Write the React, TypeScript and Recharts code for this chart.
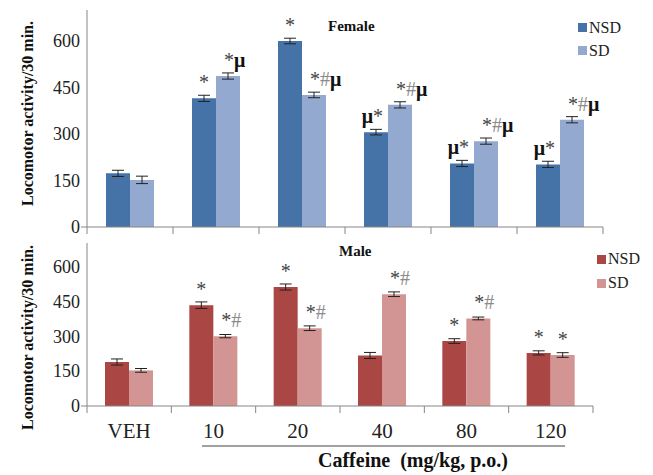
import React from "react";
import { Bar, BarChart, ErrorBar, LabelList, Legend, XAxis, YAxis, Label } from "recharts";

const doses = ["VEH", "10", "20", "40", "80", "120"];
const yTicks = [0, 150, 300, 450, 600];

const femaleNSD = [173, 415, 600, 306, 205, 202];
const femaleSD = [152, 487, 426, 394, 277, 346];
const femaleNSDErr = [10, 10, 9, 9, 10, 10];
const femaleSDErr = [12, 10, 9, 10, 10, 10];
const femaleNSDNote = ["", "*", "*", "μ*", "μ*", "μ*"];
const femaleSDNote = ["", "*μ", "*#μ", "*#μ", "*#μ", "*#μ"];

const maleNSD = [189, 433, 511, 217, 279, 228];
const maleSD = [153, 300, 334, 480, 376, 219];
const maleNSDErr = [13, 14, 13, 13, 10, 9];
const maleSDErr = [8, 7, 10, 10, 6, 10];
const maleNSDNote = ["", "*", "*", "", "*", "*"];
const maleSDNote = ["", "*#", "*#", "*#", "*#", "*"];

const SERIF = '"Liberation Serif", Tinos, "DejaVu Serif", serif';
const AXIS = "#868686";

const femaleData = doses.map((dose, i) => ({
  dose,
  nsd: femaleNSD[i],
  sd: femaleSD[i],
  nsdErr: femaleNSDErr[i],
  sdErr: femaleSDErr[i],
  nsdNote: femaleNSDNote[i],
  sdNote: femaleSDNote[i],
}));

const maleData = doses.map((dose, i) => ({
  dose,
  nsd: maleNSD[i],
  sd: maleSD[i],
  nsdErr: maleNSDErr[i],
  sdErr: maleSDErr[i],
  nsdNote: maleNSDNote[i],
  sdNote: maleSDNote[i],
}));

function Note(props: any) {
  const { x, y, width, value, side } = props;
  if (!value) return null;
  const cx = Number(x) + Number(width) / 2;
  let anchor: "middle" | "start" | "end" = "middle";
  let tx = cx;
  if (String(value).length > 1) {
    if (side === "nsd") {
      anchor = "end";
      tx = cx + 7;
    } else {
      anchor = "start";
      tx = cx - 4;
    }
  }
  return (
    <text x={tx} y={Number(y) - 9} textAnchor={anchor} fontSize={20} fontFamily={SERIF}>
      {[...String(value)].map((c, i) => (
        <tspan
          key={i}
          fill={c === "#" ? "#8a8a8a" : c === "μ" ? "#111" : "#444"}
          fontWeight={c === "μ" ? "bold" : "normal"}
        >
          {c}
        </tspan>
      ))}
    </text>
  );
}

// Excel style: tick marks sit on category boundaries
function DoseTick(props: any) {
  const { x, y, payload, index, showText } = props;
  const half = payload?.offset ?? 43;
  const last = index === doses.length - 1;
  return (
    <g>
      <line x1={x - half} x2={x - half} y1={y} y2={y + 7} stroke={AXIS} />
      {last && <line x1={x + half} x2={x + half} y1={y} y2={y + 7} stroke={AXIS} />}
      {index === 0 && <line x1={x - half - 6} x2={x - half} y1={y} y2={y} stroke={AXIS} />}
      {showText && (
        <text x={x} y={y + 32} textAnchor="middle" fontSize={21} fontFamily={SERIF} fill="#222">
          {payload.value}
        </text>
      )}
    </g>
  );
}

function YLabel({ viewBox, dy = 0 }: any) {
  const cy = viewBox.y + viewBox.height / 2 + dy;
  return (
    <text
      transform={`translate(27,${cy}) rotate(-90)`}
      textAnchor="middle"
      dominantBaseline="central"
      fontSize={16}
      fontWeight="bold"
      fontFamily={SERIF}
      fill="#111"
    >
      Locomotor activity/30 min.
    </text>
  );
}

function CaffeineLabel({ viewBox }: any) {
  const x0 = viewBox.x;
  const y0 = viewBox.y;
  return (
    <g>
      <line x1={x0 + 115} x2={x0 + 478} y1={y0 + 40} y2={y0 + 40} stroke="#444" />
      <text x={x0 + 326} y={y0 + 61} textAnchor="middle" fontSize={20} fontWeight="bold" fontFamily={SERIF} fill="#111">
        {"Caffeine\u00a0 (mg/kg, p.o.)"}
      </text>
    </g>
  );
}

function LegendBox({ payload, gap }: any) {
  return (
    <div style={{ fontFamily: SERIF, fontSize: 16, color: "#222" }}>
      {(payload || []).map((p: any) => (
        <div key={p.value} style={{ display: "flex", alignItems: "center", height: gap }}>
          <span style={{ width: 9, height: 9, background: p.color, marginRight: 2, display: "inline-block" }} />
          <span>{p.value}</span>
        </div>
      ))}
    </div>
  );
}

function Panel({ data, nsdColor, sdColor, height, margin, xHeight, showText, legendPos, legendGap, labelDy }: any) {
  return (
    <BarChart width={653} height={height} data={data} margin={margin} barGap={0} barSize={24}>
      <XAxis
        dataKey="dose"
        axisLine={{ stroke: AXIS }}
        tickLine={false}
        tickSize={0}
        tickMargin={0}
        height={xHeight}
        interval={0}
        tick={<DoseTick showText={showText} />}
      >
        {showText && <Label content={<CaffeineLabel />} />}
      </XAxis>
      <YAxis
        width={87}
        domain={[0, 700]}
        ticks={yTicks}
        axisLine={{ stroke: AXIS }}
        tickLine={false}
        tickSize={0}
        tickMargin={7}
        tick={{ fontSize: 18, fontFamily: SERIF, fill: "#222" }}
      >
        <Label content={<YLabel dy={labelDy} />} />
      </YAxis>
      <Legend
        layout="vertical"
        align="center"
        verticalAlign="middle"
        wrapperStyle={{ left: legendPos[0], top: legendPos[1], width: 70 }}
        content={<LegendBox gap={legendGap} />}
      />
      <Bar dataKey="nsd" name="NSD" fill={nsdColor} isAnimationActive={false}>
        <ErrorBar dataKey="nsdErr" width={6} stroke="#222" strokeWidth={1} direction="y" />
        <LabelList dataKey="nsdNote" content={(p: any) => <Note {...p} side="nsd" />} />
      </Bar>
      <Bar dataKey="sd" name="SD" fill={sdColor} isAnimationActive={false}>
        <ErrorBar dataKey="sdErr" width={6} stroke="#222" strokeWidth={1} direction="y" />
        <LabelList dataKey="sdNote" content={(p: any) => <Note {...p} side="sd" />} />
      </Bar>
    </BarChart>
  );
}

const titleStyle: React.CSSProperties = {
  position: "absolute",
  fontFamily: SERIF,
  fontWeight: "bold",
  fontSize: 15,
  lineHeight: "15px",
  color: "#111",
};

export default function App() {
  return (
    <div style={{ position: "fixed", left: 0, top: 0, width: 653, height: 475, background: "#fff", overflow: "hidden" }}>
      <div style={{ position: "absolute", left: 0, top: 0 }}>
        <Panel
          data={femaleData}
          nsdColor="#4572A7"
          sdColor="#93A9CF"
          height={240}
          margin={{ top: 10, right: 50, bottom: 5, left: 0 }}
          xHeight={8}
          showText={false}
          legendPos={[578, 16]}
          legendGap={23}
          labelDy={-5}
        />
      </div>
      <div style={{ position: "absolute", left: 0, top: 230 }}>
        <Panel
          data={maleData}
          nsdColor="#AA4643"
          sdColor="#D39593"
          height={245}
          margin={{ top: 13, right: 60, bottom: 0, left: 0 }}
          xHeight={69}
          showText={true}
          legendPos={[597, 17]}
          legendGap={24}
          labelDy={13}
        />
      </div>
      <div style={{ ...titleStyle, left: 328, top: 19 }}>Female</div>
      <div style={{ ...titleStyle, left: 339, top: 244 }}>Male</div>
    </div>
  );
}
